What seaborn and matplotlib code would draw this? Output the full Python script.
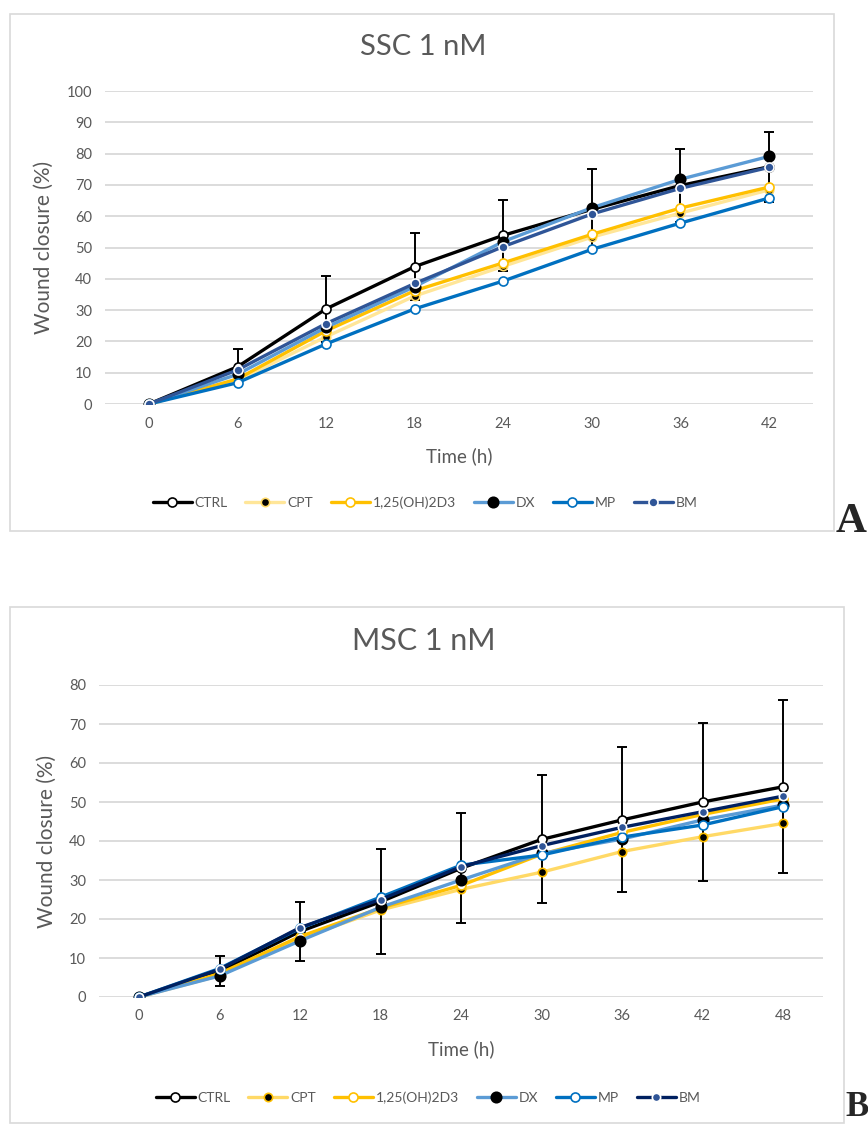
import matplotlib
matplotlib.use("Agg")
from matplotlib import pyplot as plt
from matplotlib.patches import Rectangle
import seaborn as sns

SERIES = ["CTRL", "CPT", "1,25(OH)2D3", "DX", "MP", "BM"]

# SSC 1 nM
ssc_time = [0, 6, 12, 18, 24, 30, 36, 42]
ssc_ctrl = [0, 11.9, 30.4, 43.9, 53.9, 62.2, 69.8, 75.8]
ssc_ctrl_err = [0, 5.6, 10.6, 10.8, 11.3, 13.0, 11.6, 11.2]
ssc_cpt = [0, 7.5, 21.5, 34.5, 44.0, 53.3, 61.0, 68.4]
ssc_d3 = [0, 8.0, 23.4, 36.2, 45.1, 54.2, 62.6, 69.3]
ssc_dx = [0, 9.5, 24.5, 37.5, 51.9, 62.7, 71.8, 79.1]
ssc_mp = [0, 6.8, 19.2, 30.4, 39.3, 49.4, 57.8, 65.8]
ssc_bm = [0, 10.9, 25.7, 38.5, 50.3, 60.7, 68.9, 75.6]

# MSC 1 nM
msc_time = [0, 6, 12, 18, 24, 30, 36, 42, 48]
msc_ctrl = [0, 6.6, 16.8, 24.4, 33.0, 40.4, 45.4, 50.0, 53.9]
msc_ctrl_err = [0, 3.8, 7.6, 13.5, 14.1, 16.4, 18.6, 20.3, 22.2]
msc_cpt = [0, 5.5, 15.0, 22.3, 27.6, 32.0, 37.3, 41.1, 44.5]
msc_d3 = [0, 6.0, 15.5, 22.8, 28.6, 36.6, 42.2, 46.8, 50.8]
msc_dx = [0, 5.4, 14.4, 23.0, 30.0, 36.8, 40.5, 45.4, 49.2]
msc_mp = [0, 7.3, 17.6, 25.6, 33.8, 36.4, 41.0, 44.1, 48.8]
msc_bm = [0, 7.1, 17.8, 25.0, 33.4, 38.8, 43.5, 47.5, 51.5]

GRAY = "#595959"
GRID = "#D9D9D9"

sns.set_theme(style="white")
plt.rcParams["font.family"] = ["Lato", "DejaVu Sans"]

# line colour, marker face, marker edge, marker size
style_top = {
    "CTRL": ("black", "white", "black", 6.5),
    "CPT": ("#FFE699", "black", "#FFD966", 6.0),
    "1,25(OH)2D3": ("#FFC000", "white", "#FFC000", 6.5),
    "DX": ("#5B9BD5", "black", "black", 7.5),
    "MP": ("#0070C0", "white", "#0070C0", 6.5),
    "BM": ("#2F5597", "#2F5597", "white", 6.5),
}
style_bot = dict(style_top)
style_bot["CPT"] = ("#FFD966", "black", "#FFC000", 6.0)
style_bot["BM"] = ("#002060", "#2F5597", "white", 6.0)


def draw_panel(ax, time, values, ctrl_err, styles, xmax, ymax, title, title_y, tsize):
    for name, vals in zip(SERIES, values):
        lc, mfc, mec, ms = styles[name]
        sns.lineplot(x=time, y=vals, ax=ax, color=lc, lw=2.4, marker="o",
                     markersize=ms, markerfacecolor=mfc, markeredgecolor=mec,
                     markeredgewidth=1.2, label=name, zorder=3)
    ax.errorbar(time[1:], values[0][1:], yerr=ctrl_err[1:], fmt="none",
                ecolor="black", elinewidth=1.4, capsize=3.5, capthick=1.4,
                zorder=2.8)
    ax.set_xlim(-3, xmax + 3)
    ax.set_ylim(0, ymax)
    ax.set_xticks(time)
    ax.set_yticks(range(0, ymax + 1, 10))
    ax.yaxis.grid(True, color=GRID, lw=1.3)
    ax.set_axisbelow(True)
    for s in ax.spines.values():
        s.set_visible(False)
    ax.tick_params(axis="both", length=0, labelsize=10.5, colors=GRAY, pad=9)
    ax.set_xlabel("Time (h)", fontsize=13.5, color=GRAY, labelpad=12)
    ax.set_ylabel("Wound closure (%)", fontsize=15, color=GRAY, labelpad=9)
    fig.text(0.488, title_y, title, fontsize=tsize, color=GRAY,
             ha="center", va="center")


fig = plt.figure(figsize=(8.68, 11.25), dpi=100)
H = 1125.0
W = 868.0

ax1 = fig.add_axes([104.7 / W, 1 - 404 / H, 708.6 / W, 313 / H])
draw_panel(ax1, ssc_time, [ssc_ctrl, ssc_cpt, ssc_d3, ssc_dx, ssc_mp, ssc_bm],
           ssc_ctrl_err, style_top, 42, 100, "SSC 1 nM", 1 - 47 / H, 21)
ax1.legend(loc="center", bbox_to_anchor=(425 / W, 1 - 503 / H),
           bbox_transform=fig.transFigure, ncol=6, frameon=False,
           fontsize=10, labelcolor=GRAY, handlelength=2.8, handletextpad=0.2,
           columnspacing=1.3)

ax2 = fig.add_axes([98.75 / W, 1 - 997 / H, 724.5 / W, 312 / H])
draw_panel(ax2, msc_time, [msc_ctrl, msc_cpt, msc_d3, msc_dx, msc_mp, msc_bm],
           msc_ctrl_err, style_bot, 48, 80, "MSC 1 nM", 1 - 641 / H, 22)
ax2.legend(loc="center", bbox_to_anchor=(428 / W, 1 - 1098 / H),
           bbox_transform=fig.transFigure, ncol=6, frameon=False,
           fontsize=10, labelcolor=GRAY, handlelength=2.8, handletextpad=0.2,
           columnspacing=1.3)

# chart frames
fig.patches.append(Rectangle((10 / W, 1 - 531 / H), 824 / W, 517 / H,
                             transform=fig.transFigure, fill=False,
                             edgecolor=GRID, lw=1.2))
fig.patches.append(Rectangle((10 / W, 1 - 1123 / H), 834 / W, 516 / H,
                             transform=fig.transFigure, fill=False,
                             edgecolor=GRID, lw=1.2))

fig.text(836 / W, 1 - 532 / H, "A", fontsize=31, fontweight="bold",
         family="Liberation Serif", ha="left", va="baseline")
fig.text(845 / W, 1 - 1124 / H, "B", fontsize=25, fontweight="bold",
         family="Liberation Serif", ha="left", va="bottom")

fig.savefig("out.png", dpi=100)
